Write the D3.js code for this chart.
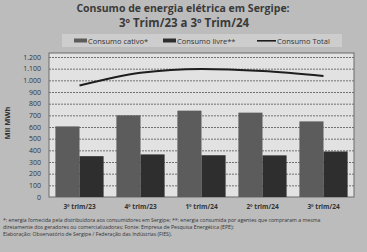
<!DOCTYPE html>
<html>
<head>
<meta charset="utf-8">
<script src="https://cdn.jsdelivr.net/npm/d3@7"></script>
<style>
  body { margin: 0; background: #bcbcbc; }
  svg { display: block; font-family: "Open Sans", "DejaVu Sans", sans-serif; }
</style>
</head>
<body>
<svg id="chart"></svg>
<script>
// data (mil MWh)
const quarters = ["3º trim/23", "4º trim/23", "1º trim/24", "2º trim/24", "3º trim/24"];
const cativo = [605, 700, 740, 723, 648];
const livre = [350, 365, 358, 357, 390];
const total = [955, 1065, 1098, 1080, 1038];
const yTicks = [0, 100, 200, 300, 400, 500, 600, 700, 800, 900, 1000, 1100, 1200];

const W = 367, H = 252;
const m = { top: 57, right: 13, bottom: 55, left: 49 };

const svg = d3.select("#chart").attr("width", W).attr("height", H);

svg.append("rect").attr("width", W).attr("height", H).attr("fill", "#bcbcbc");

// title
svg.append("text").attr("x", 183).attr("y", 12).attr("text-anchor", "middle")
  .attr("font-size", 10.5).attr("font-weight", "bold").attr("fill", "#3a3a3a")
  .text("Consumo de energia elétrica em Sergipe:");
svg.append("text").attr("x", 184).attr("y", 27).attr("text-anchor", "middle")
  .attr("font-size", 11.5).attr("font-weight", "bold").attr("fill", "#3a3a3a")
  .text("3º Trim/23 a 3º Trim/24");

const x = d3.scaleBand().domain(quarters).range([m.left, W - m.right]).paddingInner(0.21).paddingOuter(0.105);
const xs = d3.scaleBand().domain(["cativo", "livre"]).range([0, x.bandwidth()]);
const y = d3.scaleLinear().domain([0, 1200]).range([H - m.bottom, m.top]);

// plot area
svg.append("rect").attr("x", m.left).attr("y", m.top - 4)
  .attr("width", W - m.left - m.right).attr("height", H - m.top - m.bottom + 4)
  .attr("fill", "#e2e2e2").attr("stroke", "#6a6a6a").attr("stroke-width", 1);

// gridlines
svg.append("g").selectAll("line").data(yTicks.slice(1)).join("line")
  .attr("x1", m.left).attr("x2", W - m.right)
  .attr("y1", d => y(d) + 0.5).attr("y2", d => y(d) + 0.5)
  .attr("stroke", "#707070").attr("stroke-width", 1).attr("stroke-dasharray", "2,1");

// y axis labels
const fmt = d3.formatLocale({ decimal: ",", thousands: ".", grouping: [3], currency: ["R$", ""] }).format(",");
svg.append("g").attr("transform", `translate(${m.left},0)`)
  .call(d3.axisLeft(y).tickValues(yTicks).tickSize(0).tickPadding(8).tickFormat(fmt))
  .call(g => g.select(".domain").remove())
  .call(g => g.selectAll("text").attr("font-size", 7).attr("fill", "#333").attr("font-family", "Open Sans, sans-serif"));

svg.append("text").attr("transform", `translate(10,${(m.top + H - m.bottom) / 2 - 4}) rotate(-90)`)
  .attr("text-anchor", "middle").attr("font-size", 7.5).attr("font-weight", "bold").attr("fill", "#333")
  .text("Mil MWh");

// bars
const groups = svg.append("g").selectAll("g").data(quarters).join("g")
  .attr("transform", d => `translate(${x(d)},0)`);
groups.append("rect")
  .attr("x", xs("cativo")).attr("width", xs.bandwidth())
  .attr("y", (d, i) => y(cativo[i])).attr("height", (d, i) => y(0) - y(cativo[i]))
  .attr("fill", "#5c5c5c");
groups.append("rect")
  .attr("x", xs("livre")).attr("width", xs.bandwidth())
  .attr("y", (d, i) => y(livre[i])).attr("height", (d, i) => y(0) - y(livre[i]))
  .attr("fill", "#2e2e2e");

// total line
const line = d3.line().x((d, i) => x(quarters[i]) + x.bandwidth() / 2).y(d => y(d)).curve(d3.curveMonotoneX);
svg.append("path").datum(total).attr("d", line)
  .attr("fill", "none").attr("stroke", "#1e1e1e").attr("stroke-width", 2);

// x axis labels
svg.append("g").attr("transform", `translate(0,${H - m.bottom})`)
  .call(d3.axisBottom(x).tickSize(0).tickPadding(7))
  .call(g => g.select(".domain").remove())
  .call(g => g.selectAll("text").attr("font-size", 6.5).attr("font-weight", "bold").attr("fill", "#333").attr("font-family", "Open Sans, sans-serif"));

// legend
svg.append("rect").attr("x", 62).attr("y", 34).attr("width", 280).attr("height", 13).attr("fill", "#cdcdcd");
const legend = [
  { label: "Consumo cativo*", color: "#5c5c5c", type: "bar", x: 74 },
  { label: "Consumo livre**", color: "#2e2e2e", type: "bar", x: 163 },
  { label: "Consumo Total", color: "#1e1e1e", type: "line", x: 257 }
];
const lg = svg.append("g").selectAll("g").data(legend).join("g")
  .attr("transform", d => `translate(${d.x},41)`);
lg.append("rect").attr("x", 0).attr("y", d => d.type === "bar" ? -2.5 : -1)
  .attr("width", d => d.type === "bar" ? 13 : 19).attr("height", d => d.type === "bar" ? 4 : 1.6).attr("fill", d => d.color);
lg.append("text").attr("x", d => d.type === "bar" ? 14 : 20).attr("y", 2.5).attr("font-size", 7.5).attr("fill", "#333").text(d => d.label);

// footnotes
const notes = [
  "*: energia fornecida pela distribuidora aos consumidores em Sergipe; **: energia consumida por agentes que compraram a mesma",
  "diretamente dos geradores ou comercializadoras; Fonte: Empresa de Pesquisa Energética (EPE);",
  "Elaboração: Observatório de Sergipe / Federação das Indústrias (FIES)."
];
svg.append("g").selectAll("text").data(notes).join("text")
  .attr("x", 3).attr("y", (d, i) => 222 + i * 6.8)
  .attr("font-size", 5.2).attr("fill", "#333").text(d => d);
</script>
</body>
</html>
